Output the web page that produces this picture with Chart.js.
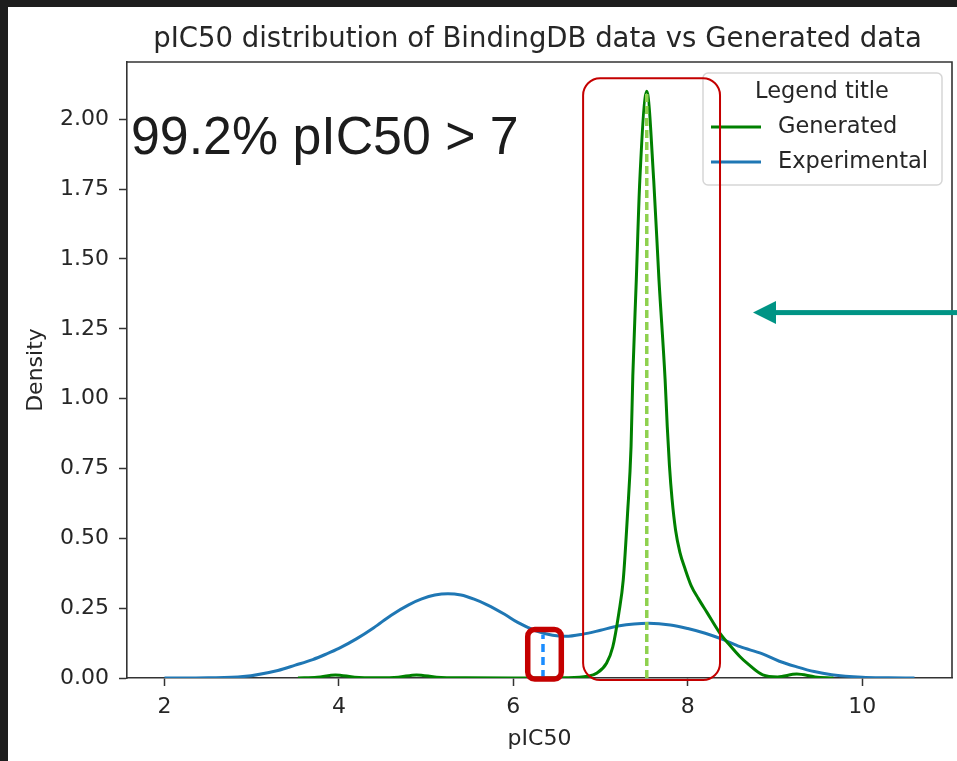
<!DOCTYPE html>
<html>
<head>
<meta charset="utf-8">
<script src="https://cdn.jsdelivr.net/npm/chart.js@4.4.0/dist/chart.umd.min.js"></script>
<style>
  html, body { margin: 0; padding: 0; background: #1e1e1e; width: 957px; height: 761px; overflow: hidden; }
  #wrap { position: absolute; left: 8px; top: 7px; width: 949px; height: 754px; background: #fff; }
</style>
</head>
<body>
<div id="wrap"><canvas id="kde" width="949" height="754"></canvas></div>
<script>
// Experimental (BindingDB) density
const expX = [2.0, 2.5, 2.9, 3.3, 3.5, 3.7, 3.85, 4.0, 4.2, 4.4, 4.6, 4.8, 4.95, 5.1, 5.25, 5.4, 5.55, 5.7, 5.9, 6.05, 6.25, 6.45, 6.6, 6.8, 7.0, 7.2, 7.55, 7.8, 8.0, 8.2, 8.4, 8.6, 8.85, 9.05, 9.25, 9.45, 9.65, 10.0, 10.3, 10.6];
const expY = [0.000, 0.001, 0.005, 0.027, 0.046, 0.066, 0.085, 0.106, 0.140, 0.180, 0.225, 0.262, 0.283, 0.297, 0.302, 0.297, 0.282, 0.262, 0.228, 0.199, 0.170, 0.153, 0.149, 0.157, 0.171, 0.186, 0.196, 0.190, 0.177, 0.160, 0.138, 0.112, 0.087, 0.060, 0.040, 0.023, 0.012, 0.003, 0.001, 0.000];

// Generated density
const genX = [3.53, 3.75, 3.96, 4.18, 4.45, 4.68, 4.89, 5.12, 5.45, 6.0, 6.6, 6.85, 6.96, 7.07, 7.14, 7.21, 7.26, 7.31, 7.35, 7.37, 7.41, 7.45, 7.53, 7.61, 7.67, 7.74, 7.765, 7.79, 7.82, 7.86, 7.91, 7.97, 8.04, 8.12, 8.22, 8.37, 8.48, 8.60, 8.68, 8.86, 9.03, 9.25, 9.46, 9.67];
const genY = [0, 0.003, 0.011, 0.003, 0.001, 0.003, 0.011, 0.003, 0.0005, 0, 0.001, 0.006, 0.018, 0.054, 0.111, 0.233, 0.35, 0.59, 0.83, 1.08, 1.425, 1.78, 2.10, 1.78, 1.425, 1.07, 0.90, 0.76, 0.64, 0.53, 0.45, 0.39, 0.33, 0.285, 0.235, 0.16, 0.118, 0.076, 0.053, 0.011, 0.004, 0.014, 0.004, 0];

// dashed markers: [x, top]
const expMark = [6.34, 0.155];
const genMark = [7.53, 2.10];

const xTicks = [2, 4, 6, 8, 10];
const yTicks = [0, 0.25, 0.5, 0.75, 1.0, 1.25, 1.5, 1.75, 2.0];
const xRange = [1.57, 11.03];
const yRange = [0, 2.205];

const seriesNames = ['Generated', 'Experimental'];
const noteText = '99.2% pIC50 > 7';

const BLUE = '#1f77b4', GREEN = '#008000';

const pts = (xs, ys) => xs.map((v, i) => ({ x: v, y: ys[i] }));

function roundRect(ctx, x, y, w, h, r) {
  ctx.beginPath();
  ctx.moveTo(x + r, y);
  ctx.lineTo(x + w - r, y);
  ctx.arcTo(x + w, y, x + w, y + r, r);
  ctx.lineTo(x + w, y + h - r);
  ctx.arcTo(x + w, y + h, x + w - r, y + h, r);
  ctx.lineTo(x + r, y + h);
  ctx.arcTo(x, y + h, x, y + h - r, r);
  ctx.lineTo(x, y + r);
  ctx.arcTo(x, y, x + r, y, r);
  ctx.closePath();
}

const overlay = {
  id: 'overlay',
  afterDatasetsDraw(chart) {
    const { ctx, chartArea: a, scales: { x, y } } = chart;
    ctx.save();

    // top + right spines
    ctx.strokeStyle = '#333';
    ctx.lineWidth = 1.6;
    ctx.beginPath();
    ctx.moveTo(a.left, a.top);
    ctx.lineTo(a.right, a.top);
    ctx.lineTo(a.right, a.bottom);
    ctx.stroke();

    // legend
    const lw = 239, lh = 112;
    const lx = a.right - 10 - lw, ly = a.top + 11;
    roundRect(ctx, lx, ly, lw, lh, 5);
    ctx.fillStyle = 'rgba(255,255,255,0.8)';
    ctx.fill();
    ctx.strokeStyle = '#d6d6d6';
    ctx.lineWidth = 1.5;
    ctx.stroke();
    ctx.fillStyle = '#262626';
    ctx.font = '22.5px "DejaVu Sans"';
    ctx.textBaseline = 'middle';
    ctx.textAlign = 'center';
    ctx.fillText('Legend title', lx + 119, ly + 19);
    ctx.textAlign = 'left';
    [GREEN, BLUE].forEach((c, i) => {
      const yy = ly + 54 + i * 35;
      ctx.strokeStyle = c;
      ctx.lineWidth = 3;
      ctx.beginPath();
      ctx.moveTo(lx + 8, yy);
      ctx.lineTo(lx + 58, yy);
      ctx.stroke();
      ctx.fillText(seriesNames[i], lx + 75, yy);
    });

    // red highlight boxes
    ctx.strokeStyle = '#c40000';
    ctx.lineWidth = 2;
    const bx0 = x.getPixelForValue(6.80), bx1 = x.getPixelForValue(8.37);
    const by0 = y.getPixelForValue(2.147), by1 = y.getPixelForValue(-0.007);
    roundRect(ctx, bx0, by0, bx1 - bx0, by1 - by0, 17);
    ctx.stroke();
    ctx.lineWidth = 5.5;
    const sx0 = x.getPixelForValue(6.165), sx1 = x.getPixelForValue(6.55);
    const sy0 = y.getPixelForValue(0.174), sy1 = y.getPixelForValue(-0.004);
    roundRect(ctx, sx0, sy0, sx1 - sx0, sy1 - sy0, 7);
    ctx.stroke();

    // teal arrow coming from the right edge
    const tipX = x.getPixelForValue(8.748), tipY = y.getPixelForValue(1.308);
    ctx.fillStyle = '#009485';
    ctx.fillRect(tipX + 20, tipY - 2.5, chart.width - tipX - 20, 5);
    ctx.beginPath();
    ctx.moveTo(tipX, tipY);
    ctx.lineTo(tipX + 23, tipY - 11.5);
    ctx.lineTo(tipX + 23, tipY + 11.5);
    ctx.closePath();
    ctx.fill();

    // big annotation text
    ctx.save();
    ctx.translate(x.getPixelForValue(1.616), y.getPixelForValue(1.874));
    ctx.scale(0.96, 1);
    ctx.font = '54px "Liberation Sans", Arial, sans-serif';
    ctx.fillStyle = '#1c1c1c';
    ctx.textBaseline = 'alphabetic';
    ctx.textAlign = 'left';
    ctx.fillText(noteText, 0, 0);
    ctx.restore();

    // title
    ctx.font = '27.5px "DejaVu Sans"';
    ctx.fillStyle = '#262626';
    ctx.textAlign = 'center';
    ctx.textBaseline = 'alphabetic';
    ctx.fillText('pIC50 distribution of BindingDB data vs Generated data', (a.left + a.right) / 2 - 2, 40);

    ctx.restore();
  }
};

Chart.defaults.font.family = '"DejaVu Sans", sans-serif';
Chart.defaults.color = '#262626';

new Chart(document.getElementById('kde'), {
  type: 'line',
  data: {
    datasets: [
      { label: 'expMark', data: pts([expMark[0], expMark[0]], [0, expMark[1]]), borderColor: '#1a8cff', borderWidth: 3.5, borderDash: [8, 5], order: 0 },
      { label: 'genMark', data: pts([genMark[0], genMark[0]], [0, genMark[1]]), borderColor: '#8fd14f', borderWidth: 3.5, borderDash: [8, 4], order: 0 },
      { label: 'Generated', data: pts(genX, genY), borderColor: GREEN, borderWidth: 3, cubicInterpolationMode: 'monotone', order: 1 },
      { label: 'Experimental', data: pts(expX, expY), borderColor: BLUE, borderWidth: 3, cubicInterpolationMode: 'monotone', order: 2 }
    ]
  },
  options: {
    responsive: false,
    animation: false,
    elements: { point: { radius: 0 }, line: { fill: false } },
    layout: { padding: { top: 55, left: 0, right: 5, bottom: 0 } },
    plugins: { legend: { display: false }, tooltip: { enabled: false } },
    scales: {
      x: {
        type: 'linear',
        min: xRange[0], max: xRange[1],
        afterBuildTicks: s => { s.ticks = xTicks.map(v => ({ value: v })); },
        afterFit: s => { s.height = 83; },
        ticks: { font: { size: 22 }, color: '#262626', padding: 8, callback: v => String(v) },
        grid: { display: true, drawOnChartArea: false, drawTicks: true, tickLength: 8, tickWidth: 1.5, color: '#333' },
        border: { display: true, color: '#333', width: 1.6 },
        title: { display: true, text: 'pIC50', font: { size: 22 }, color: '#262626', padding: { top: 0, bottom: 9 } }
      },
      y: {
        min: yRange[0], max: yRange[1],
        afterBuildTicks: s => { s.ticks = yTicks.map(v => ({ value: v })); },
        afterFit: s => { s.width = 119; },
        ticks: { font: { size: 22 }, color: '#262626', padding: 10, callback: v => v.toFixed(2) },
        grid: { display: true, drawOnChartArea: false, drawTicks: true, tickLength: 8, tickWidth: 1.5, color: '#333' },
        border: { display: true, color: '#333', width: 1.6 },
        title: { display: true, text: 'Density', font: { size: 22 }, color: '#262626', padding: { top: 15, bottom: 0 } }
      }
    }
  },
  plugins: [overlay]
});
</script>
</body>
</html>
